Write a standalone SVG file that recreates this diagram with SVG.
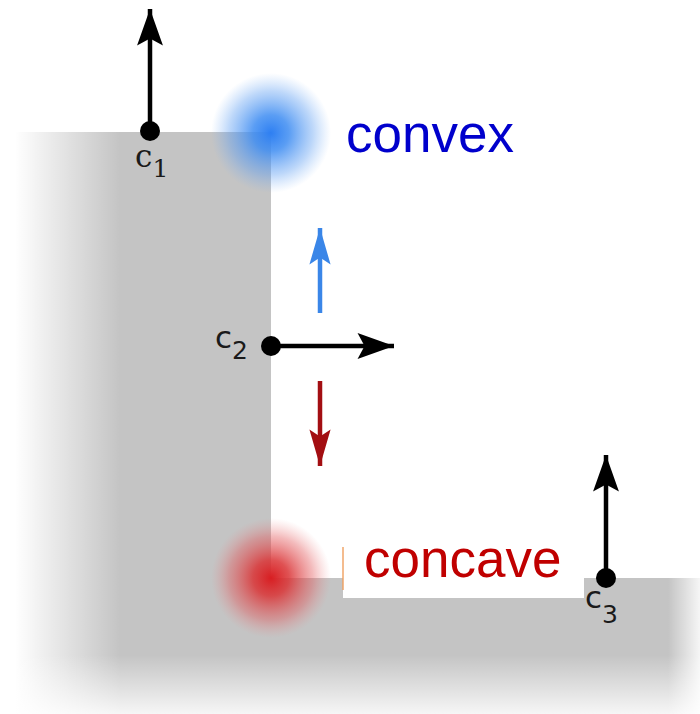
<svg xmlns="http://www.w3.org/2000/svg" width="700" height="714" viewBox="0 0 700 714">
<style>
.lbl{font-family:"DejaVu Sans",sans-serif;fill:#1a1a1a}
.big{font-family:"Liberation Sans",Arial,sans-serif;font-size:53px}
</style>
<defs>
<linearGradient id="fadeL" x1="0" y1="0" x2="1" y2="0">
<stop offset="0" stop-color="#fff" stop-opacity="1"/>
<stop offset="1" stop-color="#fff" stop-opacity="0"/>
</linearGradient>
<linearGradient id="fadeB" x1="0" y1="0" x2="0" y2="1">
<stop offset="0" stop-color="#fff" stop-opacity="0"/>
<stop offset="1" stop-color="#fff" stop-opacity="0.85"/>
</linearGradient>
<linearGradient id="fadeR" x1="0" y1="0" x2="1" y2="0">
<stop offset="0" stop-color="#fff" stop-opacity="0"/>
<stop offset="1" stop-color="#fff" stop-opacity="0.85"/>
</linearGradient>
<radialGradient id="blue">
<stop offset="0" stop-color="#2e7ff2" stop-opacity="1"/>
<stop offset="0.3" stop-color="#3d8cf2" stop-opacity="0.85"/>
<stop offset="0.7" stop-color="#5a9cf2" stop-opacity="0.4"/>
<stop offset="1" stop-color="#7ab0f5" stop-opacity="0"/>
</radialGradient>
<radialGradient id="red">
<stop offset="0" stop-color="#d81e22" stop-opacity="1"/>
<stop offset="0.3" stop-color="#da3335" stop-opacity="0.85"/>
<stop offset="0.7" stop-color="#e25558" stop-opacity="0.4"/>
<stop offset="1" stop-color="#ec8a8c" stop-opacity="0"/>
</radialGradient>
<marker id="ahK" markerUnits="userSpaceOnUse" markerWidth="40" markerHeight="30" viewBox="-32 -12 34 24" refX="0" refY="0" orient="auto">
<path d="M0,0 L-31,-11 L-25,0 L-31,11 Z" fill="#000"/>
</marker>
<marker id="ahB" markerUnits="userSpaceOnUse" markerWidth="40" markerHeight="30" viewBox="-32 -12 34 24" refX="0" refY="0" orient="auto">
<path d="M0,0 L-31,-9 L-25,0 L-31,9 Z" fill="#3a86e8"/>
</marker>
<marker id="ahR" markerUnits="userSpaceOnUse" markerWidth="40" markerHeight="30" viewBox="-32 -12 34 24" refX="0" refY="0" orient="auto">
<path d="M0,0 L-31,-9 L-25,0 L-31,9 Z" fill="#a30e12"/>
</marker>
</defs>
<rect width="700" height="714" fill="#fff"/>
<g id="surface">
<path d="M15,132 H271 V578 H700 V714 H15 Z" fill="#c4c4c4"/>
<rect x="15" y="132" width="105" height="582" fill="url(#fadeL)"/>
<rect x="15" y="655" width="685" height="59" fill="url(#fadeB)"/>
<rect x="668" y="578" width="32" height="136" fill="url(#fadeR)"/>
</g>
<g id="convex-blob"><circle cx="271" cy="133" r="60" fill="url(#blue)"/></g>
<g id="concave-blob"><circle cx="271" cy="578" r="60" fill="url(#red)"/></g>
<g id="concave-label">
<rect x="343" y="540" width="241" height="58" fill="#fff"/>
<rect x="342" y="547" width="2" height="43" fill="#f0a060" opacity="0.7"/>
<text class="big" x="364" y="577" fill="#c00000">concave</text>
</g>
<g id="convex-label"><text class="big" x="346" y="152" fill="#0000cc">convex</text></g>
<g id="connectors" stroke-width="4.5" fill="none">
<line x1="150" y1="131" x2="150" y2="9" stroke="#000" marker-end="url(#ahK)"/>
<line x1="271" y1="346" x2="394" y2="346" stroke="#000" marker-end="url(#ahK)"/>
<line x1="606" y1="578" x2="606" y2="455" stroke="#000" marker-end="url(#ahK)"/>
<line x1="320" y1="313" x2="320" y2="228" stroke="#3a86e8" marker-end="url(#ahB)"/>
<line x1="320" y1="381" x2="320" y2="466" stroke="#a30e12" marker-end="url(#ahR)"/>
</g>
<g id="c1">
<circle cx="150" cy="131" r="10" fill="#000"/>
<text class="lbl" x="135" y="167" font-size="31" style="font-family:'DejaVu Serif',serif">c<tspan font-size="25" dy="10">1</tspan></text>
</g>
<g id="c2">
<circle cx="271" cy="346" r="10" fill="#000"/>
<text class="lbl" x="215" y="348" font-size="31">c<tspan font-size="25" dy="11">2</tspan></text>
</g>
<g id="c3">
<circle cx="606" cy="578" r="10" fill="#000"/>
<text class="lbl" x="585" y="608" font-size="31">c<tspan font-size="25" dy="15">3</tspan></text>
</g>
</svg>
